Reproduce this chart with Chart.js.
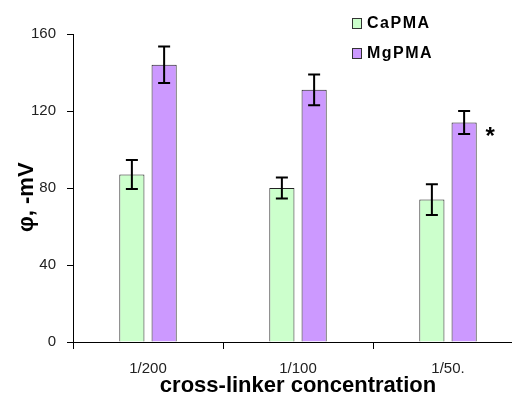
<!DOCTYPE html>
<html>
<head>
<meta charset="utf-8">
<script src="https://cdn.jsdelivr.net/npm/chart.js@4"></script>
<style>
  html, body { margin: 0; padding: 0; background: #fff; overflow: hidden; }
  #wrap { width: 512px; height: 399px; overflow: hidden; }
</style>
</head>
<body>
<div id="wrap"><canvas id="myChart" width="523" height="399"></canvas></div>
<script>
const categories = ['1/200', '1/100', '1/50.'];
const caValues = [87, 80, 74];
const caErrors = [7.5, 5.5, 8];
const mgValues = [144, 131, 114];
const mgErrors = [9.5, 8, 6];
const yTicks = [0, 40, 80, 120, 160];
const marks = ['', '', '*'];  // significance mark above MgPMA bars

const ctx = document.getElementById('myChart').getContext('2d');

// error bars + asterisk
const errorBars = {
  id: 'errorBars',
  afterDatasetsDraw(chart) {
    const c = chart.ctx;
    const y = chart.scales.y;
    const errs = [caErrors, mgErrors];
    c.save();
    c.strokeStyle = '#000';
    c.lineWidth = 2;
    chart.data.datasets.forEach((ds, i) => {
      chart.getDatasetMeta(i).data.forEach((bar, j) => {
        const top = y.getPixelForValue(ds.data[j] + errs[i][j]);
        const bot = y.getPixelForValue(ds.data[j] - errs[i][j]);
        c.beginPath();
        c.moveTo(bar.x, top); c.lineTo(bar.x, bot);
        c.moveTo(bar.x - 6, top); c.lineTo(bar.x + 6, top);
        c.moveTo(bar.x - 6, bot); c.lineTo(bar.x + 6, bot);
        c.stroke();
      });
    });
    // asterisk
    c.fillStyle = '#000';
    c.font = 'bold 24px Arial, "Liberation Sans"';
    c.textAlign = 'center';
    c.textBaseline = 'middle';
    chart.getDatasetMeta(1).data.forEach((bar, j) => {
      if (marks[j]) c.fillText(marks[j], bar.x + 26, y.getPixelForValue(mgValues[j]) + 15);
    });
    c.restore();
  }
};

// legend in the top right corner
const cornerLegend = {
  id: 'cornerLegend',
  afterDraw(chart) {
    const c = chart.ctx;
    c.save();
    c.font = 'bold 16px Arial, "Liberation Sans"';
    c.letterSpacing = '1.5px';
    c.textBaseline = 'middle';
    chart.data.datasets.forEach((ds, i) => {
      const yy = 23 + i * 30;
      c.fillStyle = ds.backgroundColor;
      c.fillRect(352, yy - 5, 9, 10);
      c.strokeStyle = '#333';
      c.lineWidth = 1;
      c.strokeRect(352.5, yy - 4.5, 9, 10);
      c.fillStyle = '#000';
      c.fillText(ds.label, 367, yy + 1);
    });
    c.restore();
  }
};

const data = {
  labels: categories,
  datasets: [
    {
      label: 'CaPMA',
      data: caValues,
      backgroundColor: '#ccffcc',
      borderColor: '#222',
      borderWidth: 1,
    },
    {
      label: 'MgPMA',
      data: mgValues,
      backgroundColor: '#cc99ff',
      borderColor: '#222',
      borderWidth: 1,
    },
  ],
};

const config = {
  type: 'bar',
  data: data,
  options: {
    responsive: false,
    animation: false,
    categoryPercentage: 0.43,
    barPercentage: 0.78,
    layout: { padding: { top: 34, right: 0, left: 0, bottom: 0 } },
    plugins: {
      legend: { display: false },
      tooltip: { enabled: false },
    },
    scales: {
      x: {
        offset: true,
        grid: { display: true, offset: true, drawOnChartArea: false, tickLength: 7, color: '#000' },
        border: { display: true, color: '#000', width: 1 },
        ticks: { color: '#222', font: { family: 'Arial, "Liberation Sans"', size: 15 }, padding: 11 },
        title: {
          display: true,
          text: 'cross-linker concentration',
          color: '#000',
          font: { family: 'Arial, "Liberation Sans"', size: 22, weight: 'bold' },
          padding: { top: 0, bottom: 0 },
        },
        afterFit: (s) => { s.height = 57; },
      },
      y: {
        min: 0,
        max: 160,
        afterBuildTicks: (s) => { s.ticks = yTicks.map(v => ({ value: v })); },
        grid: { display: true, drawOnChartArea: false, tickLength: 6, color: '#000' },
        border: { display: true, color: '#000', width: 1 },
        ticks: { color: '#222', font: { family: 'Arial, "Liberation Sans"', size: 15 }, padding: 11 },
        title: {
          display: true,
          text: 'φ, -mV   ',
          color: '#000',
          font: { family: 'Arial, "Liberation Sans"', size: 22, weight: 'bold' },
          padding: { top: 14, bottom: 8 },
        },
        afterFit: (s) => { s.width = 73; },
      },
    },
  },
  plugins: [errorBars, cornerLegend],
};

let myChart = new Chart(ctx, config);
</script>
</body>
</html>
